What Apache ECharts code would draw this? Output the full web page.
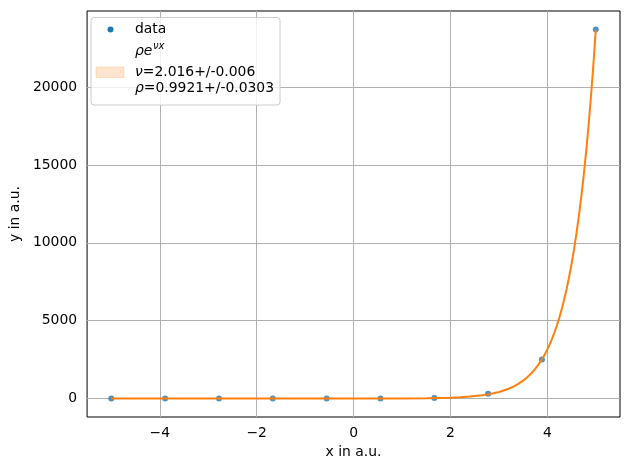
<!DOCTYPE html>
<html><head><meta charset="utf-8">
<script src="https://cdn.jsdelivr.net/npm/echarts@6/dist/echarts.min.js"></script>
<style>html,body{margin:0;padding:0;background:#fff}#c{width:630px;height:470px}</style>
</head><body><div id="c"></div>
<script>
// measured data points
const dataX = [-5, -3.889, -2.778, -1.667, -0.556, 0.556, 1.667, 2.778, 3.889, 5];
const dataY = [0, 0, 0, 0, 0.3, 3, 28, 300, 2500, 23700];
// fitted curve
const fitX = [-5, -4, -3, -2, -1, 0, 0.5, 1, 1.5, 2, 2.2, 2.4, 2.6, 2.8, 3.0, 3.1, 3.2, 3.3, 3.4, 3.5, 3.55, 3.6, 3.65, 3.7, 3.75, 3.8, 3.85, 3.9, 3.95, 4.0, 4.05, 4.1, 4.15, 4.2, 4.25, 4.3, 4.35, 4.4, 4.45, 4.5, 4.55, 4.6, 4.65, 4.7, 4.75, 4.8, 4.85, 4.9, 4.95, 5.0];
const fitY = [0, 0, 0, 0.02, 0.13, 0.99, 2.7, 7.5, 20, 56, 84, 125, 188, 281, 420, 514, 629, 769, 941, 1151, 1273, 1408, 1557, 1722, 1905, 2107, 2330, 2578, 2851, 3154, 3489, 3858, 4268, 4720, 5221, 5774, 6386, 7064, 7813, 8641, 9557, 10571, 11692, 12932, 14303, 15821, 17499, 19354, 21407, 23677];
const xTicks = [-4, -2, 0, 2, 4];
const yTicks = [0, 5000, 10000, 15000, 20000];
const xRange = [-5.5, 5.5];
const yRange = [-1185, 24885];
const legendLines = ['data', 'ρe', 'νx', '=2.016+/-0.006', '=0.9921+/-0.0303'];

const FONT = 'DejaVu Sans';
const FS = 13.9;
const minus = v => String(v).replace('-', '\u2212');

const chart = echarts.init(document.getElementById('c'), null, {renderer: 'canvas'});
const gridLines = [];
xTicks.forEach(v => gridLines.push({xAxis: v}));
yTicks.forEach(v => gridLines.push({yAxis: v}));

chart.setOption({
  animation: false,
  backgroundColor: '#fff',
  grid: {left: 84, right: 10, top: 11, bottom: 53, show: true, borderColor: '#000', borderWidth: 1, backgroundColor: 'transparent'},
  xAxis: {
    type: 'value', min: xRange[0], max: xRange[1],
    name: 'x in a.u.', nameLocation: 'middle', nameGap: 27,
    nameTextStyle: {fontFamily: FONT, fontSize: FS, color: '#000'},
    axisLine: {show: false},
    splitLine: {show: false},
    axisTick: {show: true, inside: false, length: 5, customValues: xTicks, lineStyle: {color: '#000', width: 1}},
    axisLabel: {customValues: xTicks, margin: 9, fontFamily: FONT, fontSize: FS, color: '#000', formatter: v => minus(v)}
  },
  yAxis: {
    type: 'value', min: yRange[0], max: yRange[1],
    name: 'y in a.u.', nameLocation: 'middle', nameGap: 57,
    nameTextStyle: {fontFamily: FONT, fontSize: FS, color: '#000'},
    axisLine: {show: false},
    splitLine: {show: false},
    axisTick: {show: true, inside: false, length: 5, customValues: yTicks, lineStyle: {color: '#000', width: 1}},
    axisLabel: {customValues: yTicks, margin: 10, fontFamily: FONT, fontSize: FS, color: '#000', formatter: v => minus(v)}
  },
  series: [
    {
      type: 'line', data: [], z: 1, silent: true,
      markLine: {z: 1, silent: true, symbol: ['none', 'none'], label: {show: false},
        lineStyle: {color: '#b0b0b0', width: 1, type: 'solid'}, emphasis: {disabled: true},
        data: gridLines}
    },
    {
      type: 'scatter', name: 'data', z: 2, symbolSize: 6,
      itemStyle: {color: '#1f77b4'},
      data: dataX.map((x, i) => [x, dataY[i]])
    },
    {
      type: 'line', name: 'fit', z: 3, showSymbol: false, smooth: false,
      lineStyle: {color: '#ff7f0e', width: 2}, itemStyle: {color: '#ff7f0e'},
      data: fitX.map((x, i) => [x, fitY[i]])
    }
  ],
  graphic: [
    {type: 'rect', z: 100, shape: {x: 91, y: 17.5, width: 189, height: 87.5, r: 3},
      style: {fill: 'rgba(255,255,255,0.8)', stroke: '#cccccc', lineWidth: 1}},
    {type: 'circle', z: 101, shape: {cx: 110.5, cy: 29.5, r: 3}, style: {fill: '#1f77b4'}},
    {type: 'text', z: 101, style: {x: 135, y: 29.5, text: legendLines[0], font: FS + 'px "' + FONT + '"', fill: '#000', verticalAlign: 'middle'}},
    {type: 'text', z: 101, style: {x: 135, y: 51, text: legendLines[1], font: 'italic ' + FS + 'px "' + FONT + '"', fill: '#000', verticalAlign: 'middle'}},
    {type: 'text', z: 101, style: {x: 153, y: 46, text: legendLines[2], font: 'italic 10px "' + FONT + '"', fill: '#000', verticalAlign: 'middle'}},
    {type: 'rect', z: 101, shape: {x: 96, y: 67, width: 28, height: 10.5},
      style: {fill: 'rgba(255,127,14,0.2)', stroke: 'rgba(255,127,14,0.2)', lineWidth: 1}},
    {type: 'text', z: 101, style: {x: 135, y: 72.5, text: '{i|ν}' + legendLines[3], font: FS + 'px "' + FONT + '"', fill: '#000', verticalAlign: 'middle',
      rich: {i: {fontFamily: FONT, fontSize: FS, fontStyle: 'italic', fill: '#000'}}}},
    {type: 'text', z: 101, style: {x: 135, y: 88.5, text: '{i|ρ}' + legendLines[4], font: FS + 'px "' + FONT + '"', fill: '#000', verticalAlign: 'middle',
      rich: {i: {fontFamily: FONT, fontSize: FS, fontStyle: 'italic', fill: '#000'}}}}
  ]
});
</script>
</body></html>
